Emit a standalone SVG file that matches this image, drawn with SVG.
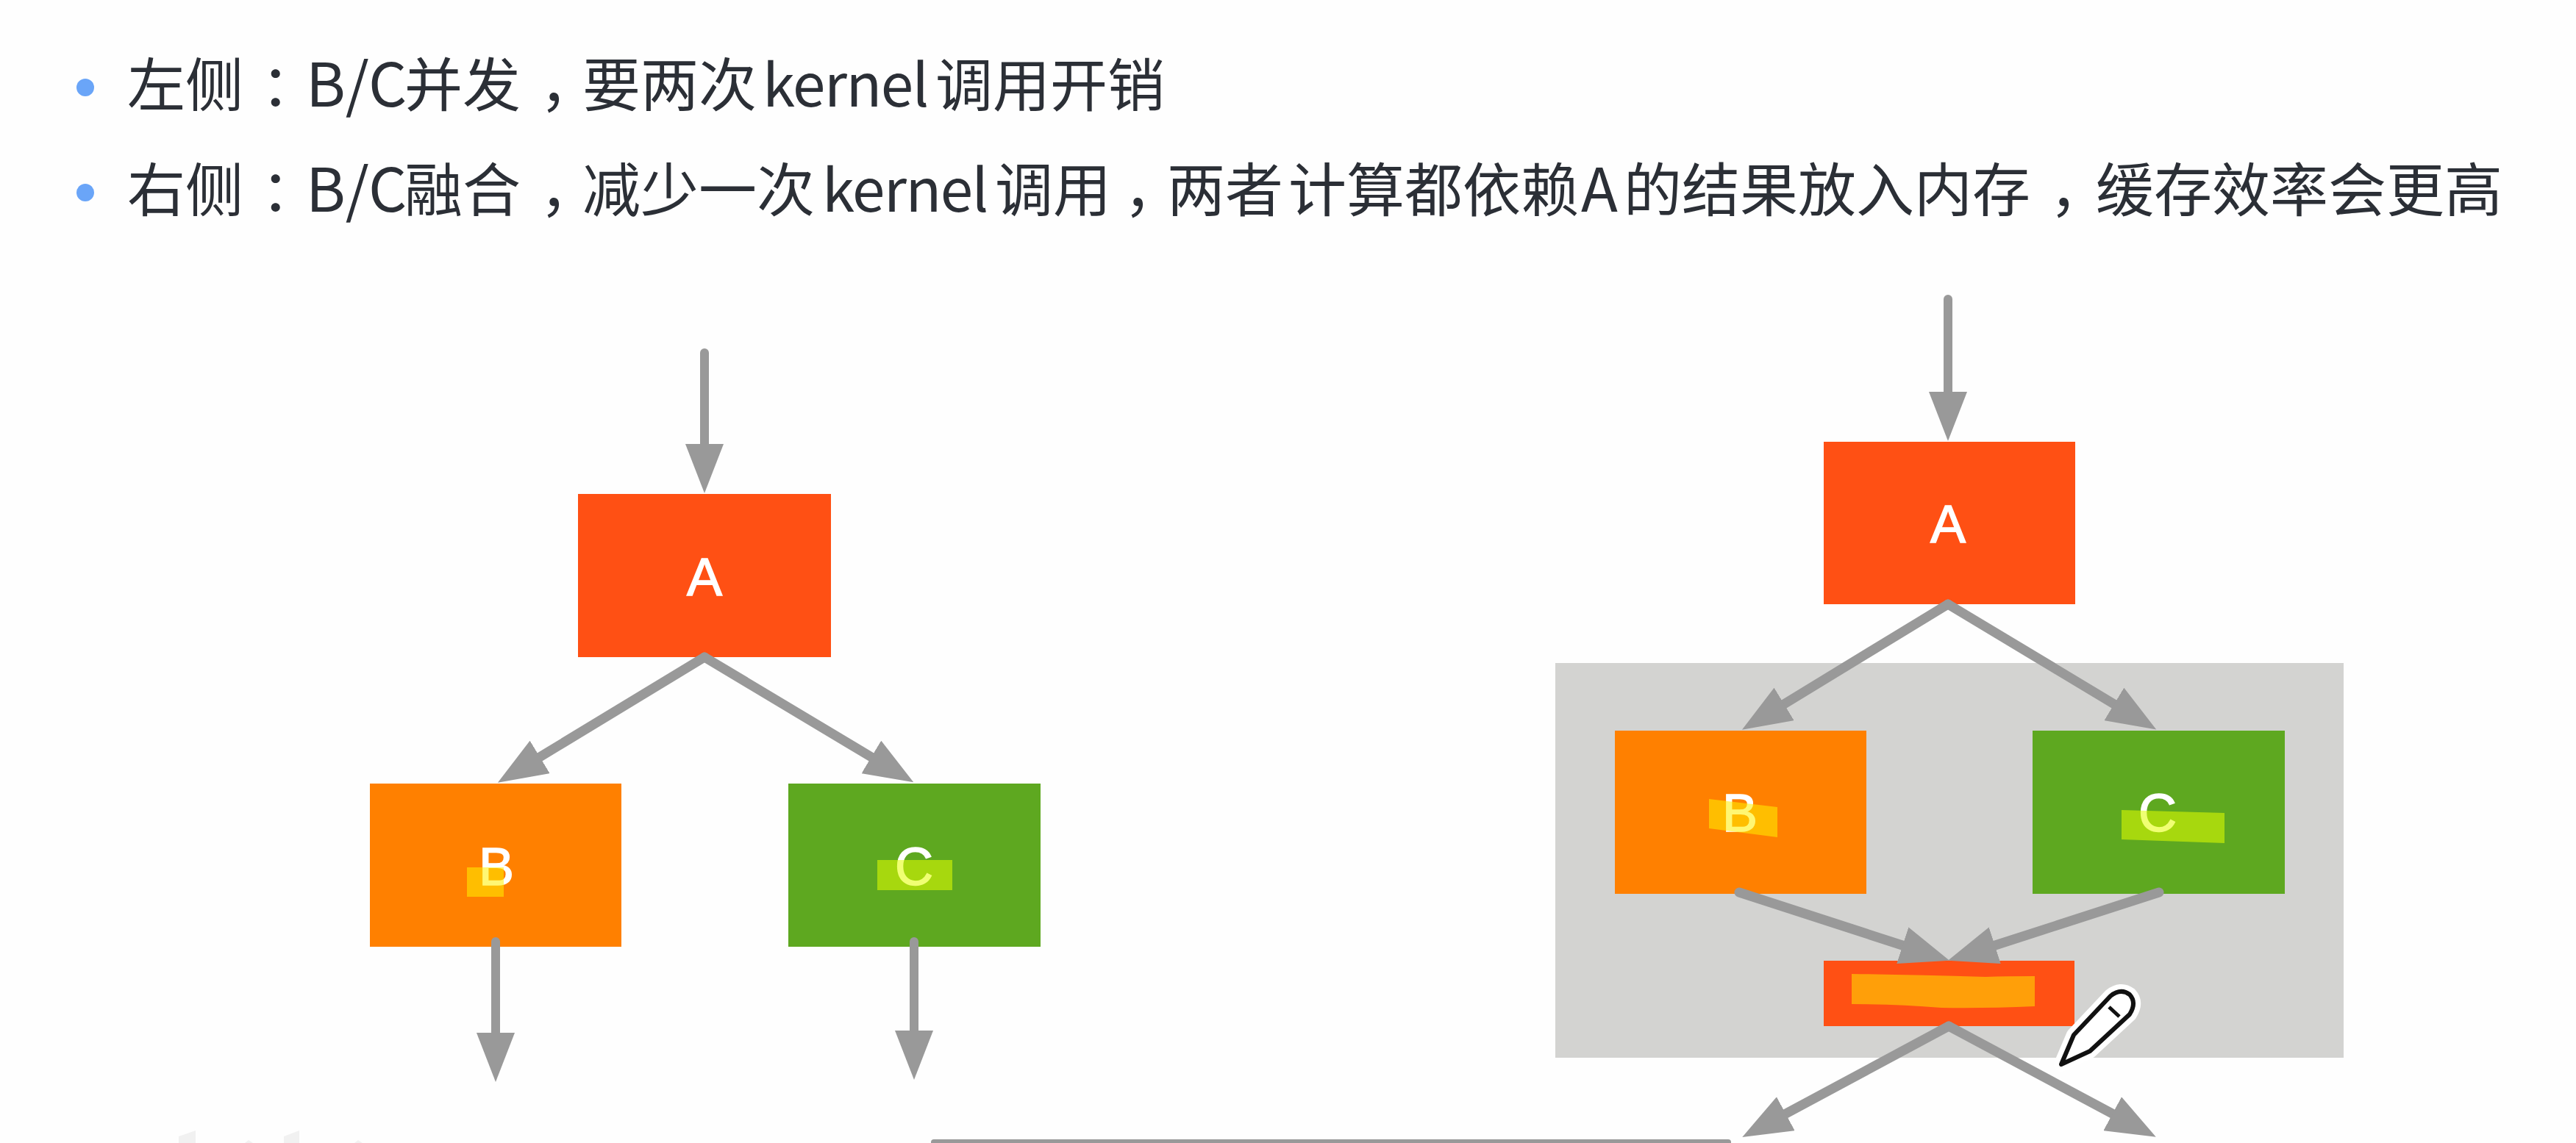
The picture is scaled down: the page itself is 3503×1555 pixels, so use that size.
<svg xmlns="http://www.w3.org/2000/svg" width="3503" height="1555" viewBox="0 0 3503 1555">
<defs>
<marker id="head" markerUnits="userSpaceOnUse" markerWidth="68" markerHeight="52" refX="6" refY="26" orient="auto"><path d="M0 0L67 26L0 52Z" fill="#999"/></marker>
</defs>
<style>
.txt{font-family:"Noto Sans CJK SC","Noto Sans",sans-serif;font-size:79px;fill:#2b2f36}
.bc{font-size:82px}
.ker{font-size:80px;letter-spacing:-1.5px}
.p1{letter-spacing:-20px}
.p2{letter-spacing:-24px}
.lbl{font-family:"Liberation Sans",Arial,sans-serif;font-size:72px;fill:#fff;stroke:#fff;stroke-width:1.5;text-anchor:middle}
.bullet{fill:#6aa5f8}
.conn{stroke:#999;stroke-width:12;fill:none;stroke-linecap:round;marker-end:url(#head)}
.diag{stroke-width:13}
.a{fill:#ff5014}.b{fill:#ff8000}.c{fill:#5ea820}
.hl{fill:#fff000;fill-opacity:.55}
.hlc{fill:#e4ff00;fill-opacity:.55}
.hld{fill:#ffe000;fill-opacity:.55}
</style>
<rect width="3503" height="1555" fill="#fefefe"/>
<g id="heading">
<circle class="bullet" cx="116" cy="119" r="12"/>
<text class="txt" y="145"><tspan x="173">左侧</tspan><tspan class="p1" x="355">：</tspan><tspan class="bc" x="416">B/C</tspan><tspan x="550">并发</tspan><tspan class="p2" x="734">，</tspan><tspan x="792">要两次</tspan><tspan class="ker" x="1037">kernel</tspan><tspan style="font-size:78px" x="1272">调用开销</tspan></text>
<circle class="bullet" cx="116" cy="262" r="12"/>
<text class="txt" y="288"><tspan x="173">右侧</tspan><tspan class="p1" x="355">：</tspan><tspan class="bc" x="416">B/C</tspan><tspan x="550">融合</tspan><tspan class="p2" x="734">，</tspan><tspan x="792">减少一次</tspan><tspan class="ker" x="1118">kernel</tspan><tspan x="1353">调用</tspan><tspan class="p2" x="1528">，</tspan><tspan x="1587">两者</tspan><tspan x="1752">计算都依赖</tspan><tspan class="bc" x="2150">A</tspan><tspan x="2208">的结果放入内存</tspan><tspan class="p2" x="2787">，</tspan><tspan x="2850">缓存效率会更高</tspan></text>
</g>
<rect id="merge-region" x="2115" y="902" width="1072" height="537" fill="#d3d3d1"/>
<g id="left-A"><rect class="a" x="786" y="672" width="344" height="222"/><text class="lbl" x="958" y="810">A</text></g>
<g id="left-B"><rect class="b" x="503" y="1066" width="342" height="222"/><text class="lbl" x="675" y="1204">B</text><rect class="hl" x="635" y="1180" width="50" height="40"/></g>
<g id="left-C"><rect class="c" x="1072" y="1066" width="343" height="222"/><text class="lbl" x="1243" y="1204">C</text><rect class="hlc" x="1193" y="1170" width="102" height="41"/></g>
<g id="right-A"><rect class="a" x="2480" y="601" width="342" height="221"/><text class="lbl" x="2649" y="738">A</text></g>
<g id="right-B"><rect class="b" x="2196" y="994" width="342" height="222"/><text class="lbl" x="2366" y="1131">B</text><path class="hl" d="M2324 1087L2417 1098V1139L2324 1127Z"/></g>
<g id="right-C"><rect class="c" x="2764" y="994" width="343" height="222"/><text class="lbl" x="2934" y="1131">C</text><path class="hlc" d="M2885 1102L3025 1106V1147L2885 1142Z"/></g>
<g id="right-merged"><rect class="a" x="2480" y="1307" width="341" height="89"/><path class="hld" d="M2518 1325Q2600 1326 2700 1329Q2730 1328 2767 1328V1369Q2700 1372 2640 1371Q2580 1366 2518 1366Z"/></g>
<g id="connectors">
<path class="conn" d="M958 480V610"/>
<path class="conn diag" d="M958 894L729 1033"/>
<path class="conn diag" d="M958 894L1190 1033"/>
<path class="conn" d="M674 1281V1411"/>
<path class="conn" d="M1243 1281V1408"/>
<path class="conn" d="M2649 407V539"/>
<path class="conn diag" d="M2649 822L2421 961"/>
<path class="conn diag" d="M2649 822L2880 961"/>
<path class="conn diag" d="M2365 1214L2593 1288"/>
<path class="conn diag" d="M2936 1214L2707 1288"/>
<path class="conn diag" d="M2650 1396L2423 1518"/>
<path class="conn diag" d="M2650 1396L2878 1518"/>
</g>
<g id="pencil">
<path d="M2803 1448L2820 1408L2870 1355Q2884 1344 2896 1353Q2906 1364 2896 1380L2842 1430Z" fill="#fff" stroke="#fff" stroke-width="20" stroke-linejoin="round"/>
<path d="M2803 1448L2820 1408L2870 1355Q2884 1344 2896 1353Q2906 1364 2896 1380L2842 1430Z" fill="#fff" stroke="#111" stroke-width="6" stroke-linejoin="round"/>
<path d="M2868 1370L2882 1383" fill="none" stroke="#111" stroke-width="5"/>
</g>
<g id="bottom-edge">
<path d="M1266 1555V1554Q1266 1550 1270 1550H2350Q2354 1550 2354 1554V1555Z" fill="#999"/>
<path d="M243 1555V1546L266 1538V1555Z M386 1555V1546L407 1538V1555Z M482 1555L487 1551L493 1555Z M333 1555L338 1551L344 1555Z" fill="#f1f1f1"/>
</g>
</svg>
